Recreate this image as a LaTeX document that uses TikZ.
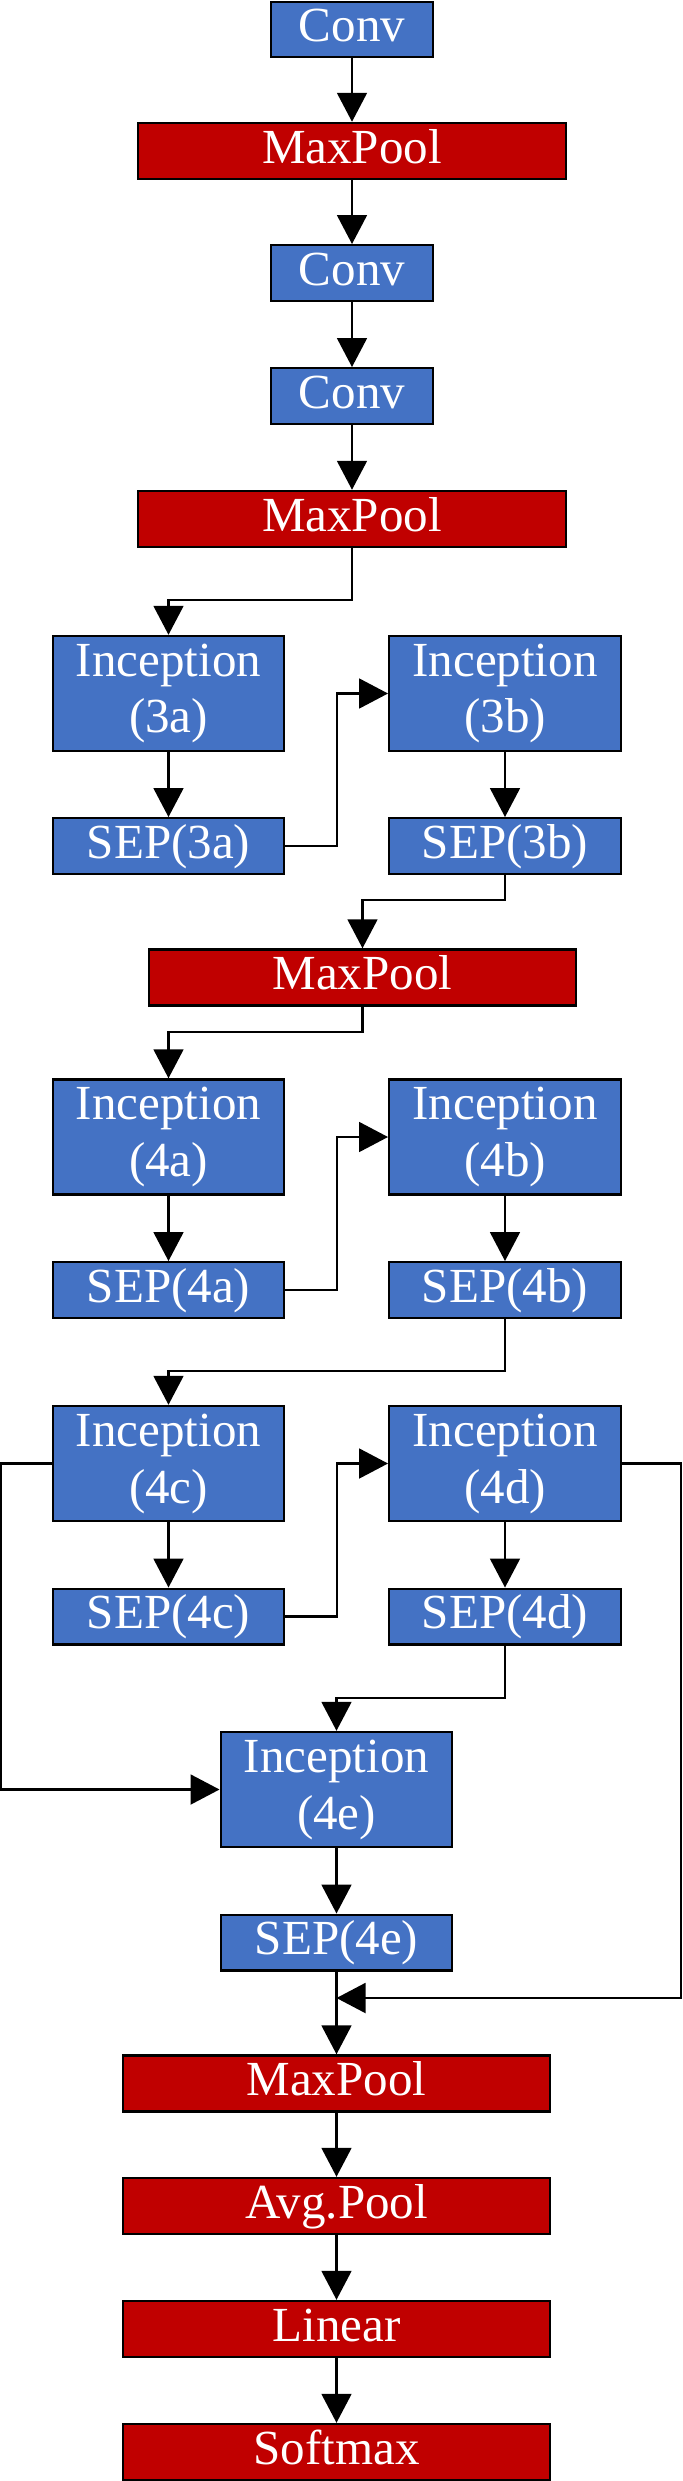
\documentclass[tikz,border=0pt]{standalone}
\usepackage{fontspec}
\setmainfont{Liberation Serif}
\usetikzlibrary{arrows.meta}
\definecolor{convblue}{HTML}{4472C4}
\definecolor{poolred}{HTML}{C00000}

\begin{document}
\begin{tikzpicture}[
  box/.style={draw=black, line width=1.4pt, text=white, inner sep=0pt,
    font=\fontsize{27.9}{32.4}\selectfont},
  oneline/.style={text height=19.5pt, text depth=5.6pt},
  conv/.style={box, oneline, fill=convblue, minimum width=3.24cm, minimum height=1.11cm},
  pool/.style={box, oneline, fill=poolred, minimum width=8.55cm, minimum height=1.12cm},
  sep/.style={box, oneline, fill=convblue, minimum width=4.63cm, minimum height=1.11cm},
  incep/.style={box, fill=convblue, minimum width=4.63cm, minimum height=2.3cm, align=center},
  arr/.style={-{Triangle[length=16.5pt, width=17pt]}, line width=1.3pt},
]
  \useasboundingbox (0,0) rectangle (13.66,-49.62);

  % Stem
  \node[conv] (conv1) at (7.04,-0.59) {Conv};
  \node[pool] (pool1) at (7.04,-3.02) {MaxPool};
  \node[conv] (conv2) at (7.04,-5.46) {Conv};
  \node[conv] (conv3) at (7.04,-7.92) {Conv};
  \node[pool] (pool2) at (7.04,-10.38) {MaxPool};

  % Inception 3
  \node[incep] (inc3a) at (3.37,-13.87) {Inception\\(3a)};
  \node[sep] (sep3a) at (3.37,-16.92) {SEP(3a)};
  \node[incep] (inc3b) at (10.1,-13.87) {Inception\\(3b)};
  \node[sep] (sep3b) at (10.1,-16.92) {SEP(3b)};
  \node[pool] (pool3) at (7.25,-19.55) {MaxPool};

  % Inception 4
  \node[incep] (inc4a) at (3.37,-22.74) {Inception\\(4a)};
  \node[sep] (sep4a) at (3.37,-25.80) {SEP(4a)};
  \node[incep] (inc4b) at (10.1,-22.74) {Inception\\(4b)};
  \node[sep] (sep4b) at (10.1,-25.80) {SEP(4b)};
  \node[incep] (inc4c) at (3.37,-29.27) {Inception\\(4c)};
  \node[sep] (sep4c) at (3.37,-32.33) {SEP(4c)};
  \node[incep] (inc4d) at (10.1,-29.27) {Inception\\(4d)};
  \node[sep] (sep4d) at (10.1,-32.33) {SEP(4d)};
  \node[incep] (inc4e) at (6.73,-35.79) {Inception\\(4e)};
  \node[sep] (sep4e) at (6.73,-38.85) {SEP(4e)};

  % Head
  \node[pool] (pool4) at (6.73,-41.67) {MaxPool};
  \node[pool] (avgpool) at (6.73,-44.12) {Avg.Pool};
  \node[pool] (linear) at (6.73,-46.58) {Linear};
  \node[pool] (softmax) at (6.73,-49.04) {Softmax};

  % Straight links
  \draw[arr] (conv1) -- (pool1);
  \draw[arr] (pool1) -- (conv2);
  \draw[arr] (conv2) -- (conv3);
  \draw[arr] (conv3) -- (pool2);
  \draw[arr] (inc3a) -- (sep3a);
  \draw[arr] (inc3b) -- (sep3b);
  \draw[arr] (inc4a) -- (sep4a);
  \draw[arr] (inc4b) -- (sep4b);
  \draw[arr] (inc4c) -- (sep4c);
  \draw[arr] (inc4d) -- (sep4d);
  \draw[arr] (inc4e) -- (sep4e);
  \draw[arr] (sep4e) -- (pool4);
  \draw[arr] (pool4) -- (avgpool);
  \draw[arr] (avgpool) -- (linear);
  \draw[arr] (linear) -- (softmax);

  % Elbow links
  \draw[arr] (pool2.south) -- ++(0,-1.04) -| (inc3a.north);
  \draw[arr] (sep3a.east) -- ++(1.03,0) |- (inc3b.west);
  \draw[arr] (sep3b.south) -- ++(0,-0.505) -| (pool3.north);
  \draw[arr] (pool3.south) -- ++(0,-0.51) -| (inc4a.north);
  \draw[arr] (sep4a.east) -- ++(1.03,0) |- (inc4b.west);
  \draw[arr] (sep4b.south) -- ++(0,-1.045) -| (inc4c.north);
  \draw[arr] (sep4c.east) -- ++(1.03,0) |- (inc4d.west);
  \draw[arr] (sep4d.south) -- ++(0,-1.055) -| (inc4e.north);

  % Skip links
  \draw[arr] (inc4c.west) -- ++(-1.015,0) |- (inc4e.west);
  \coordinate (join) at (6.73,-39.96);
  \draw[arr] (inc4d.east) -- ++(1.185,0) |- (join);
\end{tikzpicture}
\end{document}
